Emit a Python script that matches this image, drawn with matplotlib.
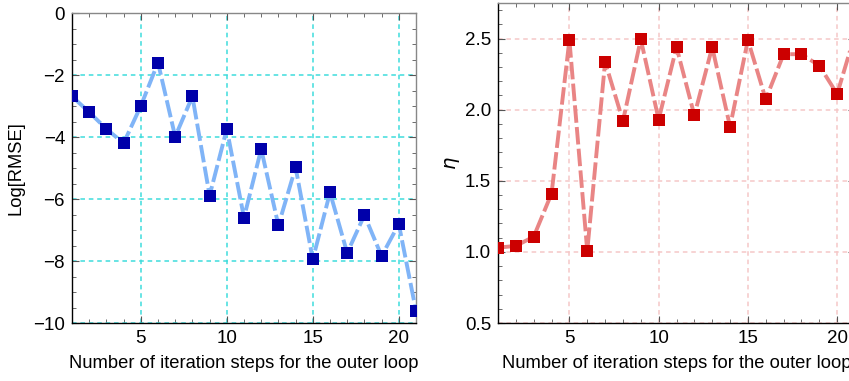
import matplotlib
matplotlib.use("Agg")
import matplotlib.pyplot as plt
from matplotlib.ticker import MultipleLocator, FormatStrFormatter

plt.rcParams['font.family'] = ['Liberation Sans', 'DejaVu Sans']

# data
steps = list(range(1, 22))
log_rmse = [-2.69, -3.2, -3.74, -4.2, -3.0, -1.6, -3.99, -2.69, -5.89, -3.74,
            -6.6, -4.39, -6.85, -4.98, -7.95, -5.79, -7.74, -6.52, -7.84, -6.81, -9.61]
eta = [1.03, 1.042, 1.107, 1.41, 2.49, 1.006, 2.336, 1.92, 2.495, 1.93,
       2.44, 1.96, 2.44, 1.88, 2.49, 2.073, 2.39, 2.39, 2.31, 2.11, 2.53]

W, H = 849, 381
fig = plt.figure(figsize=(W / 100, H / 100), dpi=100)

ax1 = fig.add_axes([72 / W, (H - 323) / H, (416 - 72) / W, (323 - 13) / H])
ax2 = fig.add_axes([498 / W, (H - 323) / H, (855 - 498) / W, (323 - 3) / H])


def style(ax, gridcol):
    ax.tick_params(which='both', direction='in', top=True, right=True,
                   labelsize=13.5, colors='black', pad=5)
    ax.tick_params(which='major', length=5, width=0.8, color='#555555')
    ax.tick_params(which='minor', length=3, width=0.6, color='#555555')
    ax.grid(True, which='major', color=gridcol, linestyle=(0, (3, 2.5)), linewidth=1.1)
    for s in ['left', 'bottom']:
        ax.spines[s].set_color('black')
        ax.spines[s].set_linewidth(1)
    for s in ['top', 'right']:
        ax.spines[s].set_color('#888888')
        ax.spines[s].set_linewidth(1)
    ax.xaxis.set_major_locator(MultipleLocator(5))
    ax.xaxis.set_minor_locator(MultipleLocator(1))
    ax.set_xlim(1, 21)
    ax.set_xlabel("Number of iteration steps for the outer loop", fontsize=13.2, labelpad=6)


# left: Log[RMSE]
ax1.plot(steps, log_rmse, color='#80b4f7', lw=2.8, dashes=(4.5, 1.1), zorder=3)
ax1.plot(steps, log_rmse, 's', color='#0000aa', ms=9, mew=0, zorder=4)
style(ax1, '#3fdcdc')
ax1.set_ylim(-10, 0)
ax1.set_yticks([0, -2, -4, -6, -8, -10])
ax1.yaxis.set_minor_locator(MultipleLocator(0.5))
ax1.set_ylabel("Log[RMSE]", fontsize=13.2, labelpad=6)

# right: eta
ax2.plot(steps, eta, color='#e98585', lw=2.8, dashes=(4.5, 1.1), zorder=3)
ax2.plot(steps, eta, 's', color='#cc0000', ms=9, mew=0, zorder=4)
style(ax2, '#f5c8c8')
ax2.set_ylim(0.5, 2.75)
ax2.yaxis.set_major_locator(MultipleLocator(0.5))
ax2.yaxis.set_minor_locator(MultipleLocator(0.1))
ax2.yaxis.set_major_formatter(FormatStrFormatter('%.1f'))
ax2.set_ylabel(r"$\eta$", fontsize=14, labelpad=2)

fig.savefig("out.png", dpi=100)
